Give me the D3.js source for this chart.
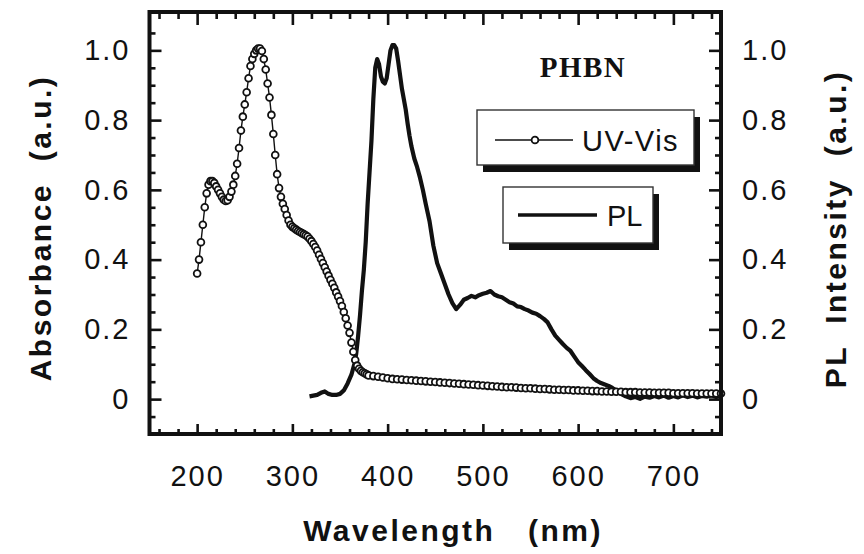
<!DOCTYPE html>
<html>
<head>
<meta charset="utf-8">
<script src="https://cdn.jsdelivr.net/npm/d3@7"></script>
<style>
  body { margin: 0; background: #fff; }
  text { font-family: 'Liberation Sans', Arial, sans-serif; fill: #111; }
</style>
</head>
<body>
<div id="chart"></div>
<script>
// UV-Vis absorbance (circles + thin line)
const uvWavelength = [
  200, 202, 204, 206, 208, 210, 212, 214, 216, 218, 220, 222, 224, 226, 228, 230,
  232, 234, 236, 238, 240, 242, 244, 246, 248, 250, 252, 254, 256, 258, 260, 262,
  264, 266, 268, 270, 272, 274, 276, 278, 280, 282, 284, 286, 288, 290, 292, 294,
  296, 298, 300, 302, 304, 306, 308, 310, 312, 314, 316, 318, 320, 322, 324, 326,
  328, 330, 332, 334, 336, 338, 340, 342, 344, 346, 348, 350, 352, 354, 356, 358,
  360, 362, 364, 366, 368, 370, 372, 374, 376, 378,
  380, 385, 390, 395, 400, 405, 410, 415, 420, 425, 430, 435, 440, 445, 450, 455,
  460, 465, 470, 475, 480, 485, 490, 495, 500, 505, 510, 515, 520, 525, 530, 535,
  540, 545, 550, 555, 560, 565, 570, 575, 580, 585, 590, 595, 600, 605, 610, 615,
  620, 625, 630, 635, 640, 645, 650, 655, 660, 665, 670, 675, 680, 685, 690, 695,
  700, 705, 710, 715, 720, 725, 730, 735, 740, 745, 750
]
const uvAbsorbance = [
  0.36, 0.40, 0.45, 0.50, 0.55, 0.59, 0.615, 0.625, 0.625, 0.62, 0.61, 0.60, 0.59, 0.58, 0.572, 0.568,
  0.57, 0.58, 0.595, 0.615, 0.64, 0.675, 0.72, 0.77, 0.81, 0.845, 0.88, 0.92, 0.955, 0.975, 0.99, 1.0,
  1.005, 1.005, 0.998, 0.975, 0.945, 0.905, 0.865, 0.815, 0.76, 0.70, 0.645, 0.605, 0.58, 0.56, 0.545, 0.528,
  0.512, 0.50, 0.494, 0.49, 0.486, 0.482, 0.479, 0.476, 0.473, 0.47, 0.466, 0.46, 0.453, 0.445, 0.436, 0.426,
  0.414, 0.402, 0.39, 0.378, 0.366, 0.354, 0.342, 0.331, 0.319, 0.306, 0.294, 0.281, 0.267, 0.25, 0.232, 0.211,
  0.19, 0.162, 0.136, 0.112, 0.096, 0.087, 0.081, 0.077, 0.074, 0.071,
  0.068, 0.066, 0.064, 0.062, 0.060, 0.058, 0.057, 0.056, 0.055, 0.054, 0.053, 0.052, 0.051, 0.050, 0.049, 0.048,
  0.047, 0.046, 0.045, 0.044, 0.043, 0.042, 0.041, 0.040, 0.039, 0.038, 0.037, 0.036, 0.035, 0.034, 0.034, 0.033,
  0.032, 0.031, 0.031, 0.030, 0.029, 0.029, 0.028, 0.027, 0.027, 0.026, 0.026, 0.025, 0.025, 0.024, 0.024, 0.023,
  0.023, 0.022, 0.022, 0.021, 0.021, 0.021, 0.020, 0.020, 0.020, 0.019, 0.019, 0.019, 0.018, 0.018, 0.018, 0.018,
  0.017, 0.017, 0.017, 0.017, 0.017, 0.016, 0.016, 0.016, 0.016, 0.016, 0.016
]

// PL intensity (thick line)
const plWavelength = [
  318, 322, 326, 330, 334, 338, 342, 346, 350, 354, 358, 362, 365, 367, 369, 371,
  373, 375, 377, 379, 381, 383, 385, 387, 389, 391, 393, 395, 397, 399, 401, 403,
  405, 407, 409, 411, 413, 415, 417, 419, 421, 423, 425, 428, 431, 434, 437, 440,
  444, 448, 452, 456, 460, 464, 468, 472, 476, 480, 484, 488, 492, 496, 500, 504,
  508, 512, 516, 520, 524, 528, 532, 536, 540, 544, 548, 552, 556, 560, 564, 568,
  572, 576, 580, 584, 588, 592, 596, 600, 604, 608, 612, 616, 620, 624, 628, 632,
  636, 640, 645, 650, 655, 660, 665, 670, 675, 680, 685, 690, 695, 700, 705, 710,
  715, 720, 725, 730, 735, 740, 745, 750
]
const plIntensity = [
  0.008, 0.010, 0.012, 0.018, 0.022, 0.015, 0.012, 0.012, 0.015, 0.025, 0.045, 0.07, 0.10, 0.13, 0.18, 0.24,
  0.31, 0.37, 0.45, 0.56, 0.65, 0.74, 0.86, 0.95, 0.975, 0.96, 0.925, 0.91, 0.905, 0.92, 0.96, 1.0,
  1.015, 1.015, 1.005, 0.97, 0.93, 0.89, 0.86, 0.83, 0.79, 0.755, 0.725, 0.69, 0.665, 0.635, 0.60, 0.56,
  0.51, 0.44, 0.39, 0.36, 0.33, 0.30, 0.275, 0.258, 0.27, 0.285, 0.29, 0.296, 0.292, 0.298, 0.302, 0.305,
  0.31, 0.30, 0.295, 0.292, 0.285, 0.278, 0.274, 0.266, 0.264, 0.258, 0.254, 0.248, 0.245, 0.238, 0.23, 0.22,
  0.20, 0.182, 0.17, 0.158, 0.147, 0.138, 0.122, 0.106, 0.095, 0.083, 0.072, 0.06, 0.052, 0.046, 0.042, 0.038,
  0.032, 0.025, 0.015, 0.008, 0.003, 0.006, 0.001, 0.007, 0.004, 0.009, 0.005, 0.010, 0.004, 0.009, 0.005, 0.011,
  0.006, 0.010, 0.005, 0.009, 0.007, 0.011, 0.006, 0.009
]

const xMajor = [200, 300, 400, 500, 600, 700]
const xMinor = [160, 180, 220, 240, 260, 280, 320, 340, 360, 380, 420, 440, 460, 480,
  520, 540, 560, 580, 620, 640, 660, 680, 720, 740]
const yMajor = [0, 0.2, 0.4, 0.6, 0.8, 1.0]
const yMinor = [-0.05, 0.05, 0.1, 0.15, 0.25, 0.3, 0.35, 0.45, 0.5, 0.55, 0.65, 0.7, 0.75,
  0.85, 0.9, 0.95, 1.05]

const width = 864
const height = 554
const frame = { left: 149.5, right: 721, top: 12, bottom: 434 }

const svg = d3.select('#chart').append('svg')
  .attr('width', width)
  .attr('height', height)

const x = d3.scaleLinear().domain([150, 750]).range([frame.left, frame.right])
const y = d3.scaleLinear().domain([-0.1, 1.11]).range([frame.bottom, frame.top])

const uv = uvWavelength.map((w, i) => ({ w, v: uvAbsorbance[i] }))
const pl = plWavelength.map((w, i) => ({ w, v: plIntensity[i] }))

const line = d3.line().x(d => x(d.w)).y(d => y(d.v))

// PL curve
svg.append('path')
  .datum(pl)
  .attr('fill', 'none')
  .attr('stroke', '#111')
  .attr('stroke-width', 4.2)
  .attr('stroke-linejoin', 'round')
  .attr('d', line)

// UV-Vis curve
svg.append('path')
  .datum(uv)
  .attr('fill', 'none')
  .attr('stroke', '#111')
  .attr('stroke-width', 1.4)
  .attr('d', line)

svg.append('g').selectAll('circle')
  .data(uv)
  .enter()
  .append('circle')
  .attr('cx', d => x(d.w))
  .attr('cy', d => y(d.v))
  .attr('r', 3.4)
  .attr('fill', 'white')
  .attr('stroke', '#111')
  .attr('stroke-width', 1.8)

// ticks, all pointing inwards
const ticks = (axis, values, size, tx, ty) => {
  const g = svg.append('g')
    .attr('transform', `translate(${tx},${ty})`)
    .call(axis.tickValues(values).tickSizeInner(-size).tickSizeOuter(0).tickFormat(''))
  g.select('.domain').remove()
  g.selectAll('line').attr('stroke', '#111').attr('stroke-width', 2.6)
}
ticks(d3.axisBottom(x), xMajor, 10, 0, frame.bottom)
ticks(d3.axisBottom(x), xMinor, 5, 0, frame.bottom)
ticks(d3.axisTop(x), xMajor, 13, 0, frame.top)
ticks(d3.axisTop(x), xMinor, 7, 0, frame.top)
ticks(d3.axisLeft(y), yMajor, 12, frame.left, 0)
ticks(d3.axisLeft(y), yMinor, 6, frame.left, 0)
ticks(d3.axisRight(y), yMajor, 12, frame.right, 0)
ticks(d3.axisRight(y), yMinor, 6, frame.right, 0)

svg.append('rect')
  .attr('x', frame.left)
  .attr('y', frame.top)
  .attr('width', frame.right - frame.left)
  .attr('height', frame.bottom - frame.top)
  .attr('fill', 'none')
  .attr('stroke', '#111')
  .attr('stroke-width', 4)

// tick labels
const yFormat = d => d === 0 ? '0' : d3.format('.1f')(d)
const labelStyle = g => {
  g.select('.domain').remove()
  g.selectAll('line').remove()
  g.attr('font-family', null).attr('font-size', null)
  g.selectAll('text')
    .style('font-size', '29px')
    .style('letter-spacing', '2px')
    .attr('fill', '#111')
}
svg.append('g')
  .attr('transform', `translate(0,${frame.bottom})`)
  .call(d3.axisBottom(x).tickValues(xMajor).tickSize(0).tickPadding(31))
  .call(labelStyle)
svg.append('g')
  .attr('transform', `translate(${frame.left},0)`)
  .call(d3.axisLeft(y).tickValues(yMajor).tickFormat(yFormat).tickSize(0).tickPadding(19))
  .call(labelStyle)
svg.append('g')
  .attr('transform', `translate(${frame.right},0)`)
  .call(d3.axisRight(y).tickValues(yMajor).tickFormat(yFormat).tickSize(0).tickPadding(21))
  .call(labelStyle)

// axis titles
const title = (text, tx, ty, rot) => svg.append('text')
  .attr('transform', `translate(${tx},${ty}) rotate(${rot})`)
  .attr('text-anchor', 'middle')
  .style('font-size', '30px')
  .style('font-weight', 'bold')
  .style('letter-spacing', '2.5px')
  .style('white-space', 'pre')
  .text(text)
title('Wavelength   (nm)', 453, 541, 0)
title('Absorbance  (a.u.)', 51, 228, -90)
title('PL  Intensity  (a.u.)', 846, 229, -90)

// sample label
svg.append('text')
  .attr('x', 583)
  .attr('y', 77)
  .attr('text-anchor', 'middle')
  .style('font-family', "'Liberation Serif', 'Times New Roman', serif")
  .style('font-weight', 'bold')
  .style('font-size', '29px')
  .style('letter-spacing', '1.5px')
  .text('PHBN')

// legend boxes with drop shadow
const box = (bx, by, bw, bh) => {
  svg.append('rect')
    .attr('x', bx + 6).attr('y', by + 7)
    .attr('width', bw).attr('height', bh)
    .attr('fill', '#111')
  svg.append('rect')
    .attr('x', bx).attr('y', by)
    .attr('width', bw).attr('height', bh)
    .attr('fill', 'white')
    .attr('stroke', '#333')
    .attr('stroke-width', 1.4)
}
box(477, 110, 217, 55)
svg.append('line')
  .attr('x1', 495).attr('x2', 573).attr('y1', 140).attr('y2', 140)
  .attr('stroke', '#111').attr('stroke-width', 1.4)
svg.append('circle')
  .attr('cx', 535).attr('cy', 140).attr('r', 3.4)
  .attr('fill', 'white').attr('stroke', '#111').attr('stroke-width', 1.8)
svg.append('text')
  .attr('x', 582).attr('y', 151)
  .style('font-size', '29px')
  .style('letter-spacing', '1.5px')
  .text('UV-Vis')

box(503, 187, 150, 56)
svg.append('line')
  .attr('x1', 518).attr('x2', 597).attr('y1', 215).attr('y2', 215)
  .attr('stroke', '#111').attr('stroke-width', 3.6)
svg.append('text')
  .attr('x', 607).attr('y', 226)
  .style('font-size', '29px')
  .text('PL')
</script>
</body>
</html>
